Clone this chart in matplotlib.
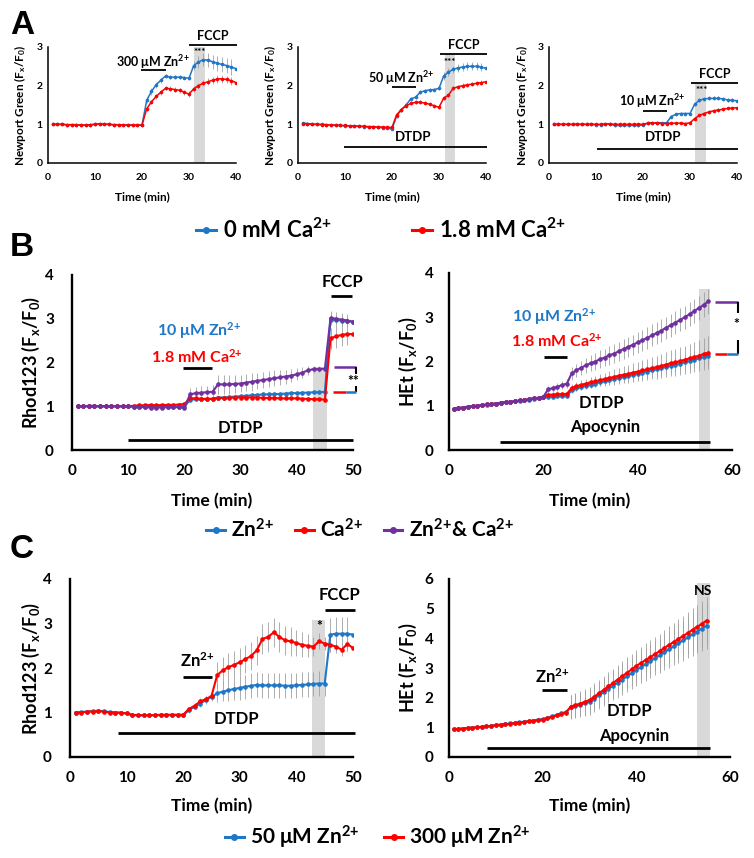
import matplotlib
matplotlib.use('Agg')
import matplotlib.pyplot as plt
from matplotlib.lines import Line2D
import numpy as np

plt.rcParams['font.family'] = ['Lato', 'DejaVu Sans']
plt.rcParams['font.weight'] = 'bold'
plt.rcParams['mathtext.fontset'] = 'custom'
plt.rcParams['mathtext.rm'] = 'Lato:bold'
plt.rcParams['mathtext.it'] = 'Lato:bold'
plt.rcParams['mathtext.bf'] = 'Lato:bold'
plt.rcParams['mathtext.default'] = 'rm'

BLUE = '#1f77c8'
RED = '#ff0000'
PURPLE = '#7030a0'
GREY = '#d9d9d9'
W, H = 754, 858

ZN = 'Zn$^{2{+}}$'
CA = 'Ca$^{2{+}}$'

# ---- panel A : Newport Green, 0 vs 1.8 mM Ca ----
t40 = np.arange(1, 41)
a1_blue = [1.00, 1.00, 1.00, 0.99, 0.99, 0.99, 0.98, 0.98, 0.99, 1.00, 1.01, 1.00, 1.00, 0.99, 0.99, 0.98, 0.98, 0.98, 0.98, 0.98,
           1.62, 1.85, 2.02, 2.14, 2.25, 2.22, 2.22, 2.22, 2.21, 2.19, 2.52, 2.61, 2.67, 2.66, 2.62, 2.58, 2.55, 2.52, 2.48, 2.44]
a1_red = [1.00, 1.00, 1.00, 0.99, 0.99, 0.99, 0.98, 0.98, 0.99, 1.00, 1.01, 1.01, 1.00, 0.99, 0.99, 0.98, 0.98, 0.98, 0.98, 0.98,
          1.40, 1.58, 1.72, 1.83, 1.93, 1.92, 1.90, 1.88, 1.83, 1.78, 1.92, 2.00, 2.06, 2.10, 2.14, 2.17, 2.18, 2.16, 2.13, 2.08]
a1_blue_err = [0.01, 0.01, 0.01, 0.01, 0.01, 0.01, 0.01, 0.01, 0.01, 0.01, 0.01, 0.01, 0.01, 0.01, 0.01, 0.01, 0.01, 0.01, 0.01, 0.01,
               0.08, 0.08, 0.07, 0.06, 0.05, 0.05, 0.05, 0.05, 0.05, 0.05, 0.12, 0.15, 0.17, 0.18, 0.18, 0.19, 0.19, 0.20, 0.20, 0.20]
a1_red_err = [0.01, 0.01, 0.01, 0.01, 0.01, 0.01, 0.01, 0.01, 0.01, 0.01, 0.01, 0.01, 0.01, 0.01, 0.01, 0.01, 0.01, 0.01, 0.01, 0.01,
              0.06, 0.06, 0.06, 0.06, 0.05, 0.06, 0.06, 0.07, 0.07, 0.07, 0.08, 0.08, 0.08, 0.09, 0.09, 0.10, 0.10, 0.10, 0.10, 0.10]

a2_blue = [1.03, 1.02, 1.01, 1.00, 1.00, 0.99, 0.98, 0.98, 0.97, 0.96, 0.96, 0.95, 0.95, 0.94, 0.93, 0.93, 0.92, 0.91, 0.90, 0.88,
           1.22, 1.38, 1.50, 1.66, 1.70, 1.83, 1.87, 1.89, 1.90, 1.93, 2.25, 2.35, 2.42, 2.46, 2.48, 2.50, 2.50, 2.50, 2.48, 2.45]
a2_red = [1.02, 1.01, 1.00, 1.00, 0.99, 0.99, 0.98, 0.98, 0.97, 0.97, 0.96, 0.96, 0.95, 0.95, 0.94, 0.94, 0.93, 0.93, 0.92, 0.92,
          1.25, 1.38, 1.48, 1.54, 1.57, 1.57, 1.55, 1.52, 1.48, 1.44, 1.68, 1.75, 1.93, 1.97, 2.00, 2.02, 2.04, 2.06, 2.08, 2.10]
a2_blue_err = [0.03, 0.03, 0.03, 0.03, 0.03, 0.03, 0.03, 0.03, 0.03, 0.03, 0.03, 0.03, 0.03, 0.03, 0.03, 0.03, 0.03, 0.03, 0.03, 0.03,
               0.05, 0.05, 0.05, 0.05, 0.05, 0.05, 0.05, 0.05, 0.05, 0.05, 0.10, 0.10, 0.10, 0.10, 0.10, 0.10, 0.10, 0.10, 0.10, 0.10]
a2_red_err = [0.02, 0.02, 0.02, 0.02, 0.02, 0.02, 0.02, 0.02, 0.02, 0.02, 0.02, 0.02, 0.02, 0.02, 0.02, 0.02, 0.02, 0.02, 0.02, 0.02,
              0.05, 0.05, 0.05, 0.05, 0.05, 0.05, 0.05, 0.05, 0.05, 0.05, 0.06, 0.06, 0.06, 0.06, 0.06, 0.06, 0.06, 0.06, 0.06, 0.06]

a3_blue = [1.00, 1.00, 1.00, 1.00, 1.00, 1.00, 1.00, 1.00, 1.00, 0.99, 0.99, 1.00, 1.01, 0.97, 0.97, 0.97, 0.97, 0.97, 0.97, 0.98,
           1.03, 1.04, 1.04, 1.04, 1.04, 1.20, 1.26, 1.28, 1.28, 1.28, 1.52, 1.62, 1.66, 1.67, 1.67, 1.67, 1.66, 1.63, 1.62, 1.61]
a3_red = [1.00, 1.00, 1.00, 1.00, 1.00, 1.00, 1.00, 1.00, 1.00, 1.00, 1.00, 1.01, 1.01, 1.00, 1.00, 1.00, 1.00, 1.00, 1.00, 1.00,
          1.03, 1.04, 1.03, 1.02, 1.02, 1.03, 1.03, 1.03, 1.02, 1.04, 1.15, 1.23, 1.28, 1.32, 1.35, 1.37, 1.39, 1.41, 1.42, 1.43]
a3_blue_err = [0.02, 0.02, 0.02, 0.02, 0.02, 0.02, 0.02, 0.02, 0.02, 0.02, 0.03, 0.03, 0.03, 0.03, 0.03, 0.03, 0.03, 0.03, 0.03, 0.03,
               0.03, 0.03, 0.03, 0.03, 0.03, 0.04, 0.04, 0.04, 0.04, 0.04, 0.05, 0.05, 0.05, 0.05, 0.05, 0.05, 0.05, 0.05, 0.05, 0.05]
a3_red_err = [0.02, 0.02, 0.02, 0.02, 0.02, 0.02, 0.02, 0.02, 0.02, 0.02, 0.02, 0.02, 0.02, 0.02, 0.02, 0.02, 0.02, 0.02, 0.02, 0.02,
              0.02, 0.02, 0.02, 0.02, 0.02, 0.02, 0.02, 0.02, 0.02, 0.02, 0.04, 0.04, 0.04, 0.04, 0.04, 0.04, 0.04, 0.04, 0.04, 0.04]

# ---- panel B : Zn / Ca / Zn & Ca ----
t50 = np.arange(1, 51)
b1_purple = [1.00, 1.00, 1.01, 1.01, 1.00, 1.00, 1.00, 1.00, 1.00, 1.00, 0.99, 0.98, 0.98, 0.97, 0.97, 0.97, 0.98, 0.98, 0.98, 0.97,
             1.27, 1.30, 1.31, 1.32, 1.33, 1.50, 1.50, 1.50, 1.51, 1.52, 1.54, 1.56, 1.58, 1.60, 1.62, 1.64, 1.66, 1.68, 1.70, 1.73,
             1.77, 1.82, 1.85, 1.85, 1.86, 3.02, 3.00, 2.98, 2.96, 2.93]
b1_blue = [1.00, 1.00, 1.00, 1.00, 1.00, 1.00, 1.00, 1.00, 1.00, 1.00, 0.99, 0.99, 0.99, 0.99, 0.99, 0.99, 0.99, 0.99, 0.99, 0.99,
           1.15, 1.16, 1.16, 1.16, 1.17, 1.20, 1.20, 1.21, 1.22, 1.23, 1.24, 1.25, 1.26, 1.27, 1.27, 1.28, 1.28, 1.29, 1.30, 1.30,
           1.31, 1.31, 1.32, 1.32, 1.33, 2.98, 2.97, 2.96, 2.95, 2.93]
b1_red = [1.00, 1.00, 1.00, 1.00, 1.00, 1.00, 1.00, 1.00, 1.00, 1.00, 1.01, 1.02, 1.02, 1.03, 1.02, 1.03, 1.03, 1.03, 1.04, 1.05,
          1.18, 1.18, 1.17, 1.17, 1.17, 1.19, 1.19, 1.19, 1.20, 1.20, 1.20, 1.20, 1.20, 1.19, 1.19, 1.19, 1.18, 1.18, 1.18, 1.18,
          1.17, 1.17, 1.16, 1.16, 1.15, 2.55, 2.60, 2.63, 2.65, 2.65]
b1_purple_err = [0.03, 0.03, 0.03, 0.03, 0.03, 0.03, 0.03, 0.03, 0.03, 0.03, 0.03, 0.03, 0.03, 0.03, 0.03, 0.03, 0.03, 0.03, 0.03, 0.03,
                 0.14, 0.14, 0.15, 0.15, 0.15, 0.22, 0.22, 0.21, 0.21, 0.20, 0.20, 0.20, 0.19, 0.19, 0.18, 0.18, 0.17, 0.16, 0.15, 0.14,
                 0.12, 0.10, 0.08, 0.07, 0.06, 0.15, 0.15, 0.15, 0.14, 0.14]
b1_blue_err = [0.02, 0.02, 0.02, 0.02, 0.02, 0.02, 0.02, 0.02, 0.02, 0.02, 0.02, 0.02, 0.02, 0.02, 0.02, 0.02, 0.02, 0.02, 0.02, 0.02,
               0.05, 0.05, 0.05, 0.05, 0.05, 0.05, 0.05, 0.05, 0.05, 0.05, 0.05, 0.05, 0.05, 0.05, 0.05, 0.05, 0.05, 0.05, 0.05, 0.05,
               0.05, 0.05, 0.05, 0.05, 0.05, 0.12, 0.12, 0.12, 0.12, 0.12]
b1_red_err = [0.03, 0.03, 0.03, 0.03, 0.03, 0.03, 0.03, 0.03, 0.03, 0.03, 0.03, 0.03, 0.03, 0.03, 0.03, 0.03, 0.03, 0.03, 0.03, 0.03,
              0.04, 0.04, 0.04, 0.04, 0.04, 0.04, 0.04, 0.04, 0.04, 0.04, 0.04, 0.04, 0.04, 0.04, 0.04, 0.04, 0.04, 0.04, 0.04, 0.04,
              0.04, 0.04, 0.04, 0.04, 0.04, 0.25, 0.26, 0.26, 0.26, 0.26]

t55 = np.arange(1, 56)
b2_purple = [0.93, 0.95, 0.96, 0.98, 0.99, 1.00, 1.01, 1.03, 1.04, 1.05, 1.07, 1.08, 1.09, 1.10, 1.12, 1.13, 1.15, 1.17, 1.18, 1.20,
             1.37, 1.40, 1.43, 1.47, 1.50, 1.73, 1.80, 1.86, 1.91, 1.96, 2.00, 2.05, 2.09, 2.14, 2.18, 2.23, 2.28, 2.33, 2.38, 2.43,
             2.48, 2.53, 2.59, 2.64, 2.70, 2.76, 2.82, 2.88, 2.94, 3.00, 3.07, 3.14, 3.21, 3.28, 3.36]
b2_red = [0.93, 0.95, 0.96, 0.98, 0.99, 1.00, 1.01, 1.03, 1.04, 1.05, 1.07, 1.08, 1.09, 1.10, 1.12, 1.13, 1.15, 1.17, 1.18, 1.20,
          1.25, 1.25, 1.26, 1.26, 1.27, 1.40, 1.44, 1.47, 1.50, 1.53, 1.55, 1.58, 1.60, 1.63, 1.65, 1.68, 1.70, 1.72, 1.75, 1.77,
          1.80, 1.82, 1.85, 1.87, 1.90, 1.93, 1.96, 1.98, 2.01, 2.04, 2.07, 2.10, 2.13, 2.17, 2.20]
b2_blue = [0.93, 0.94, 0.96, 0.97, 0.99, 1.00, 1.01, 1.02, 1.04, 1.05, 1.06, 1.08, 1.09, 1.10, 1.11, 1.13, 1.14, 1.16, 1.17, 1.19,
           1.20, 1.20, 1.21, 1.21, 1.22, 1.35, 1.39, 1.42, 1.45, 1.48, 1.50, 1.53, 1.55, 1.58, 1.60, 1.63, 1.65, 1.67, 1.70, 1.72,
           1.75, 1.77, 1.80, 1.82, 1.85, 1.88, 1.90, 1.93, 1.95, 1.98, 2.01, 2.04, 2.07, 2.10, 2.13]
b2_purple_err = [0.02, 0.02, 0.02, 0.02, 0.02, 0.03, 0.03, 0.03, 0.03, 0.03, 0.03, 0.03, 0.04, 0.04, 0.04, 0.04, 0.04, 0.05, 0.05, 0.05,
                 0.08, 0.08, 0.09, 0.09, 0.10, 0.14, 0.15, 0.16, 0.17, 0.18, 0.19, 0.20, 0.20, 0.21, 0.21, 0.22, 0.22, 0.23, 0.23, 0.24,
                 0.24, 0.24, 0.25, 0.25, 0.25, 0.25, 0.26, 0.26, 0.26, 0.26, 0.27, 0.27, 0.27, 0.28, 0.28]
b2_red_err = [0.02, 0.02, 0.02, 0.02, 0.02, 0.02, 0.02, 0.02, 0.03, 0.03, 0.03, 0.03, 0.03, 0.03, 0.03, 0.03, 0.04, 0.04, 0.04, 0.04,
              0.05, 0.05, 0.05, 0.05, 0.05, 0.10, 0.10, 0.11, 0.11, 0.12, 0.13, 0.14, 0.15, 0.16, 0.17, 0.18, 0.19, 0.20, 0.21, 0.22,
              0.23, 0.24, 0.25, 0.26, 0.27, 0.28, 0.29, 0.30, 0.31, 0.32, 0.33, 0.34, 0.35, 0.36, 0.37]
b2_blue_err = [0.02, 0.02, 0.02, 0.02, 0.02, 0.02, 0.02, 0.02, 0.02, 0.02, 0.03, 0.03, 0.03, 0.03, 0.03, 0.03, 0.03, 0.03, 0.03, 0.03,
               0.04, 0.04, 0.04, 0.04, 0.04, 0.06, 0.06, 0.07, 0.07, 0.08, 0.08, 0.09, 0.09, 0.10, 0.10, 0.11, 0.11, 0.12, 0.12, 0.13,
               0.13, 0.14, 0.14, 0.15, 0.15, 0.16, 0.16, 0.17, 0.17, 0.18, 0.18, 0.19, 0.19, 0.20, 0.20]

# ---- panel C : 50 vs 300 uM Zn ----
c1_blue = [1.00, 1.01, 1.02, 1.03, 1.04, 1.03, 1.01, 1.00, 1.00, 0.98, 0.95, 0.94, 0.94, 0.94, 0.94, 0.94, 0.94, 0.94, 0.94, 0.94,
           1.05, 1.13, 1.20, 1.28, 1.35, 1.43, 1.47, 1.50, 1.53, 1.55, 1.58, 1.60, 1.62, 1.61, 1.61, 1.61, 1.61, 1.60, 1.60, 1.61,
           1.62, 1.63, 1.64, 1.65, 1.65, 2.75, 2.77, 2.77, 2.77, 2.75]
c1_red = [1.00, 1.00, 1.02, 1.02, 1.03, 1.02, 1.00, 1.00, 0.99, 0.98, 0.94, 0.94, 0.94, 0.94, 0.94, 0.95, 0.95, 0.95, 0.95, 0.95,
          1.08, 1.15, 1.25, 1.30, 1.37, 1.84, 1.95, 2.02, 2.07, 2.13, 2.20, 2.27, 2.40, 2.65, 2.70, 2.80, 2.70, 2.62, 2.60, 2.56,
          2.52, 2.50, 2.48, 2.60, 2.55, 2.52, 2.48, 2.41, 2.54, 2.45]
c1_blue_err = [0.02, 0.02, 0.02, 0.02, 0.02, 0.02, 0.02, 0.02, 0.02, 0.02, 0.02, 0.02, 0.02, 0.02, 0.02, 0.02, 0.02, 0.02, 0.02, 0.02,
               0.05, 0.06, 0.07, 0.08, 0.10, 0.20, 0.22, 0.24, 0.25, 0.26, 0.27, 0.28, 0.28, 0.28, 0.28, 0.28, 0.28, 0.28, 0.28, 0.28,
               0.28, 0.28, 0.28, 0.28, 0.28, 0.38, 0.38, 0.38, 0.38, 0.38]
c1_red_err = [0.02, 0.02, 0.02, 0.02, 0.02, 0.02, 0.02, 0.02, 0.02, 0.02, 0.02, 0.02, 0.02, 0.02, 0.02, 0.02, 0.02, 0.02, 0.02, 0.02,
              0.05, 0.06, 0.07, 0.08, 0.10, 0.30, 0.30, 0.31, 0.31, 0.32, 0.32, 0.32, 0.33, 0.33, 0.33, 0.33, 0.33, 0.32, 0.32, 0.30,
              0.28, 0.26, 0.22, 0.18, 0.15, 0.15, 0.15, 0.15, 0.15, 0.15]

c2_red = [0.93, 0.95, 0.96, 0.98, 0.99, 1.00, 1.02, 1.03, 1.05, 1.07, 1.09, 1.10, 1.12, 1.14, 1.16, 1.18, 1.20, 1.22, 1.24, 1.26,
          1.30, 1.35, 1.40, 1.45, 1.50, 1.70, 1.75, 1.80, 1.86, 1.92, 2.03, 2.15, 2.26, 2.38, 2.49, 2.61, 2.72, 2.84, 2.95, 3.07,
          3.17, 3.27, 3.37, 3.47, 3.57, 3.68, 3.78, 3.88, 3.98, 4.08, 4.18, 4.29, 4.39, 4.49, 4.60]
c2_blue = [0.93, 0.95, 0.96, 0.98, 0.99, 1.00, 1.02, 1.03, 1.05, 1.07, 1.09, 1.11, 1.13, 1.15, 1.17, 1.19, 1.21, 1.23, 1.26, 1.28,
           1.32, 1.37, 1.42, 1.47, 1.52, 1.68, 1.72, 1.76, 1.81, 1.86, 1.97, 2.08, 2.18, 2.29, 2.40, 2.50, 2.61, 2.72, 2.82, 2.93,
           3.03, 3.13, 3.23, 3.33, 3.43, 3.53, 3.63, 3.73, 3.83, 3.93, 4.03, 4.13, 4.23, 4.33, 4.43]
c2_err = [0.02, 0.02, 0.02, 0.02, 0.02, 0.02, 0.02, 0.03, 0.03, 0.03, 0.03, 0.03, 0.03, 0.03, 0.04, 0.04, 0.04, 0.04, 0.05, 0.05,
          0.05, 0.06, 0.06, 0.07, 0.08, 0.40, 0.41, 0.42, 0.43, 0.44, 0.45, 0.46, 0.47, 0.48, 0.49, 0.50, 0.51, 0.52, 0.53, 0.54,
          0.55, 0.56, 0.57, 0.58, 0.59, 0.60, 0.62, 0.64, 0.66, 0.68, 0.70, 0.72, 0.74, 0.77, 0.80]

fig = plt.figure(figsize=(W / 100, H / 100), dpi=100)


def new_ax(x0, x1, ytop, ybot):
    return fig.add_axes([x0 / W, 1 - ybot / H, (x1 - x0) / W, (ybot - ytop) / H])


def style(ax, xmax, ymax, xticks, yticks, fs, lw, xpad, ypad):
    ax.set_xlim(0, xmax)
    ax.set_ylim(0, ymax)
    ax.set_xticks(xticks)
    ax.set_yticks(yticks)
    for s in ['top', 'right']:
        ax.spines[s].set_visible(False)
    for s in ['left', 'bottom']:
        ax.spines[s].set_linewidth(lw)
    ax.tick_params(length=0, labelsize=fs)
    ax.tick_params(axis='x', pad=xpad)
    ax.tick_params(axis='y', pad=ypad)
    ax.patch.set_alpha(0)


def series(ax, x, y, err, color, ms, lw):
    ax.errorbar(x, y, yerr=err, color=color, marker='o', ms=ms, lw=lw, mew=0,
                ecolor='#a0a0a0', elinewidth=0.6, capsize=1.2, capthick=0.6, zorder=3)


def hbar(ax, x0, x1, y, color='k', lw=1.5):
    ax.plot([x0, x1], [y, y], color=color, lw=lw, clip_on=False, solid_capstyle='butt', zorder=4)


def vbar(ax, x, y0, y1, lw=1.5):
    ax.plot([x, x], [y0, y1], color='k', lw=lw, clip_on=False, solid_capstyle='butt', zorder=4)


def label(ax, x, y, s, fs, color='k'):
    ax.text(x, y, s, ha='center', va='center', fontsize=fs, color=color, clip_on=False, zorder=5)


def shade(ax, x0, x1, top):
    ax.fill_between([x0, x1], 0, top, color=GREY, lw=0, zorder=1)


def ftext(x, y, s, fs, rot=0, **kw):
    fig.text(x / W, 1 - y / H, s, ha='center', va='center', fontsize=fs, rotation=rot, **kw)


def legend(cx, cy, colors, names, fs, colsp):
    handles = [Line2D([], [], color=c, marker='o', ms=4, lw=2.2) for c in colors]
    fig.legend(handles, names, loc='center', bbox_to_anchor=(cx / W, 1 - cy / H), ncol=len(names),
               frameon=False, fontsize=fs, handlelength=0.9, handletextpad=0.3, columnspacing=colsp)


# --- A ---
a_axes = [new_ax(48, 236, 47, 163), new_ax(298, 486, 47, 163), new_ax(549, 737, 47, 163)]
a_data = [(a1_blue, a1_red, a1_blue_err, a1_red_err),
          (a2_blue, a2_red, a2_blue_err, a2_red_err),
          (a3_blue, a3_red, a3_blue_err, a3_red_err)]
for ax, (bl, rd, be, re) in zip(a_axes, a_data):
    style(ax, 40, 3, [0, 10, 20, 30, 40], [0, 1, 2, 3], 7.5, 1.1, 7.5, 4)
    series(ax, t40, bl, be, BLUE, 2.6, 1.1)
    series(ax, t40, rd, re, RED, 2.6, 1.1)

ax = a_axes[0]
shade(ax, 31.1, 33.4, 3.05)
hbar(ax, 19.7, 25, 2.4, lw=1.3)
label(ax, 22.4, 2.62, '300 μM ' + ZN, 9)
hbar(ax, 30, 40.2, 3.05, lw=1.3)
label(ax, 35, 3.28, 'FCCP', 9)
label(ax, 32.2, 2.86, '***', 7)

ax = a_axes[1]
shade(ax, 31.2, 33.3, 2.83)
hbar(ax, 20, 25.2, 1.97, lw=1.3)
label(ax, 22, 2.2, '50 μM ' + ZN, 9)
hbar(ax, 30.2, 40.2, 2.83, lw=1.3)
label(ax, 35.3, 3.05, 'FCCP', 9)
label(ax, 32.2, 2.6, '***', 7)
hbar(ax, 9.7, 40.2, 0.42, lw=1.3)
label(ax, 24.5, 0.67, 'DTDP', 9.5)

ax = a_axes[2]
shade(ax, 31, 33.5, 2.08)
hbar(ax, 20, 25.1, 1.34, lw=1.3)
label(ax, 22, 1.6, '10 μM ' + ZN, 9)
hbar(ax, 30.3, 40.2, 2.08, lw=1.3)
label(ax, 35.2, 2.3, 'FCCP', 9)
label(ax, 32.4, 1.87, '***', 7)
hbar(ax, 10.2, 40.2, 0.36, lw=1.3)
label(ax, 24.3, 0.67, 'DTDP', 9.5)

for cx in [20, 270, 522]:
    ftext(cx, 105, 'Newport Green (F$_{x}$/F$_{0}$)', 8.5, 90)
for cx in [142, 392, 643]:
    ftext(cx, 197, 'Time (min)', 8.5)
legend(381, 230, [BLUE, RED], ['0 mM ' + CA, '1.8 mM ' + CA], 16, 3.6)

# --- B ---
ax = new_ax(72, 353, 275, 450)
style(ax, 50, 4, [0, 10, 20, 30, 40, 50], [0, 1, 2, 3, 4], 11, 1.7, 10, 13)
shade(ax, 42.8, 45.3, 1.9)
series(ax, t50, b1_blue, b1_blue_err, BLUE, 3.3, 1.5)
series(ax, t50, b1_red, b1_red_err, RED, 3.3, 1.5)
series(ax, t50, b1_purple, b1_purple_err, PURPLE, 3.3, 1.5)
label(ax, 22.6, 2.73, '10 μM ' + ZN, 11.5, BLUE)
label(ax, 22.3, 2.13, '1.8 mM ' + CA, 11.5, RED)
hbar(ax, 19.8, 24.9, 1.87, lw=2)
hbar(ax, 46, 49.9, 3.53, lw=2)
label(ax, 48.2, 3.85, 'FCCP', 12)
hbar(ax, 10, 50, 0.23, lw=2)
label(ax, 29.9, 0.5, 'DTDP', 12)
hbar(ax, 46.6, 50.6, 1.89, PURPLE, lw=1.8)
vbar(ax, 50.6, 1.89, 1.74)
label(ax, 50.1, 1.58, '**', 10)
vbar(ax, 50.6, 1.47, 1.32)
hbar(ax, 46.4, 48.8, 1.32, RED, lw=1.8)
hbar(ax, 48.8, 50.6, 1.32, BLUE, lw=1.8)

ax = new_ax(449, 732, 273, 450)
style(ax, 60, 4, [0, 20, 40, 60], [0, 1, 2, 3, 4], 11, 1.7, 10, 11)
shade(ax, 52.9, 55.4, 3.64)
series(ax, t55, b2_blue, b2_blue_err, BLUE, 3.3, 1.5)
series(ax, t55, b2_red, b2_red_err, RED, 3.3, 1.5)
series(ax, t55, b2_purple, b2_purple_err, PURPLE, 3.3, 1.5)
label(ax, 22.4, 3.02, '10 μM ' + ZN, 11.5, BLUE)
label(ax, 22.8, 2.47, '1.8 mM ' + CA, 11.5, RED)
hbar(ax, 20.1, 25.1, 2.1, lw=2)
label(ax, 32.4, 1.06, 'DTDP', 12)
label(ax, 33.2, 0.51, 'Apocynin', 12)
hbar(ax, 10.9, 55.4, 0.17, lw=2)
hbar(ax, 56.4, 61.2, 3.34, PURPLE, lw=1.8)
vbar(ax, 61.2, 3.34, 3.09)
label(ax, 60.9, 2.85, '*', 10)
vbar(ax, 61.2, 2.49, 2.17)
hbar(ax, 56.4, 58.9, 2.17, RED, lw=1.8)
hbar(ax, 58.9, 61.2, 2.17, BLUE, lw=1.8)

ftext(31, 362, 'Rhod123 (F$_{x}$/F$_{0}$)', 13, 90)
ftext(408, 362, 'HEt (F$_{x}$/F$_{0}$)', 13, 90)
for cx in [212, 590]:
    ftext(cx, 501, 'Time (min)', 12.5)
legend(360, 530, [BLUE, RED, PURPLE], [ZN, CA, ZN + '& ' + CA], 15, 1.0)

# --- C ---
ax = new_ax(70, 353, 579, 757)
style(ax, 50, 4, [0, 10, 20, 30, 40, 50], [0, 1, 2, 3, 4], 11, 1.7, 10, 13)
shade(ax, 42.8, 45, 3.08)
series(ax, t50, c1_blue, c1_blue_err, BLUE, 3.3, 1.5)
series(ax, t50, c1_red, c1_red_err, RED, 3.3, 1.5)
label(ax, 22.4, 2.16, ZN, 12)
hbar(ax, 19.9, 25, 1.8, lw=2)
hbar(ax, 45, 50.3, 3.31, lw=2)
label(ax, 47.6, 3.63, 'FCCP', 12)
hbar(ax, 8.4, 50.3, 0.54, lw=2)
label(ax, 29.4, 0.85, 'DTDP', 12)
label(ax, 44, 2.95, '*', 10)

ax = new_ax(449, 730, 579, 757)
style(ax, 60, 6, [0, 20, 40, 60], [0, 1, 2, 3, 4, 5, 6], 11, 1.7, 10, 11)
shade(ax, 52.9, 55.7, 5.86)
series(ax, t55, c2_blue, c2_err, BLUE, 3.3, 1.5)
series(ax, t55, c2_red, c2_err, RED, 3.3, 1.5)
label(ax, 22.1, 2.72, ZN, 12)
hbar(ax, 19.9, 25.3, 2.25, lw=2)
label(ax, 38.6, 1.56, 'DTDP', 12)
label(ax, 39.5, 0.71, 'Apocynin', 12)
hbar(ax, 8.2, 55.7, 0.32, lw=2)
label(ax, 54.3, 5.58, 'NS', 10)

ftext(31, 668, 'Rhod123 (F$_{x}$/F$_{0}$)', 13, 90)
ftext(408, 668, 'HEt (F$_{x}$/F$_{0}$)', 13, 90)
for cx in [212, 590]:
    ftext(cx, 806, 'Time (min)', 12.5)
legend(378, 837, [BLUE, RED], ['50 μM ' + ZN, '300 μM ' + ZN], 15, 1.2)

# panel letters
for letter, cy in [('A', 25), ('B', 247), ('C', 549)]:
    ftext(22, cy, letter, 24, family='Liberation Sans')

fig.savefig('out.png', dpi=100)
